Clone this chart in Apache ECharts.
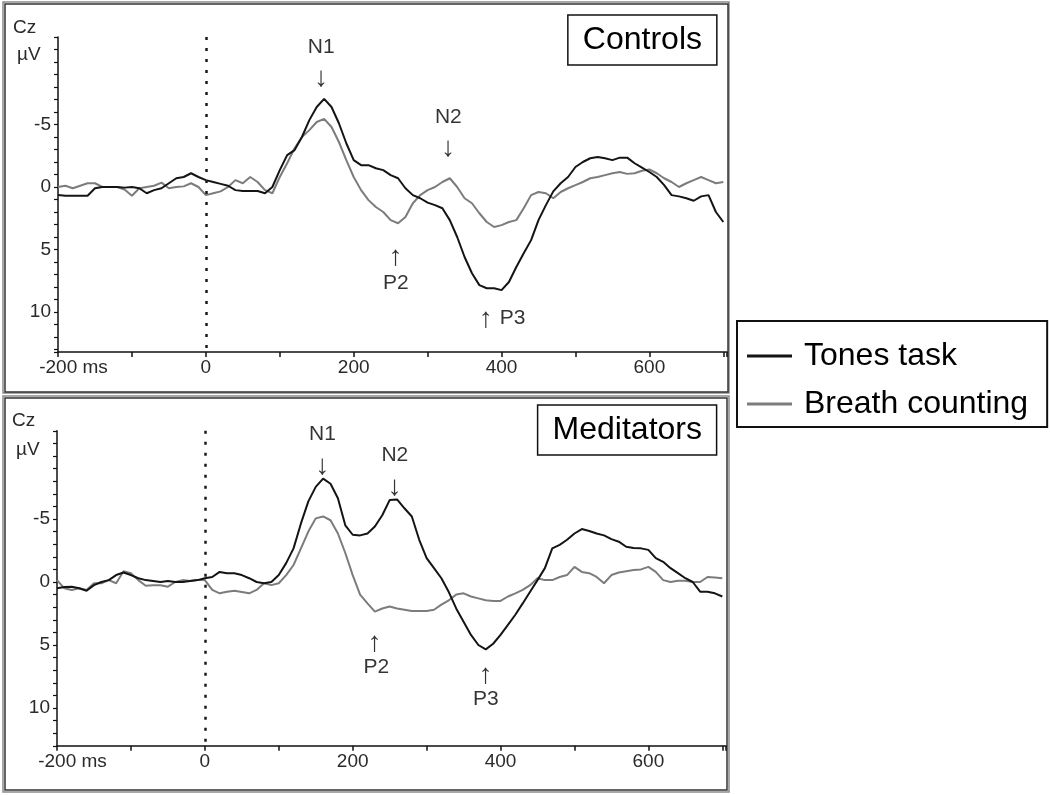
<!DOCTYPE html>
<html>
<head>
<meta charset="utf-8">
<script src="https://cdn.jsdelivr.net/npm/echarts@6/dist/echarts.min.js"></script>
<style>
  html, body { margin: 0; padding: 0; background: #fff; }
  #chart { width: 1050px; height: 795px; }
</style>
</head>
<body>
<div id="chart"></div>
<script>
// time axis, ms (one sample every 10 ms)
const times = Array.from({ length: 91 }, (_, i) => -200 + i * 10)

// Controls, µV at Cz
const ctrlTones = [
  0.64, 0.7, 0.7, 0.7, 0.7, 0.1, 0, 0, 0, 0.05,
  0, 0.1, 0.5, 0.25, 0.1, -0.3, -0.7, -0.8, -1.1, -0.8,
  -0.55, -0.4, -0.25, -0.1, 0.25, 0.32, 0.32, 0.32, 0.5, 0,
  -1.35, -2.55, -2.95, -4.0, -5.35, -6.4, -7.05, -6.4, -5.1, -3.5,
  -2.15, -1.75, -1.75, -1.5, -1.35, -0.95, -0.7, 0.1, 0.65, 0.9,
  1.25, 1.45, 1.7, 2.65, 4.0, 5.6, 6.9, 7.85, 8.1, 8.1,
  8.25, 7.6, 6.4, 5.3, 4.25, 2.65, 1.45, 0.35, -0.3, -0.8,
  -1.6, -2.0, -2.3, -2.4, -2.3, -2.15, -2.35, -2.35, -1.9, -1.55,
  -1.2, -0.8, -0.15, 0.65, 0.75, 0.9, 1.1, 0.75, 0.65, 2.0,
  2.8
]
const ctrlBreath = [
  0, -0.1, 0.1, -0.1, -0.3, -0.3, 0, 0, 0, 0.2,
  0.7, 0.1, 0, -0.1, -0.35, 0.1, 0, -0.05, -0.3, 0,
  0.65, 0.5, 0.35, 0, -0.55, -0.3, -0.8, -0.4, 0.25, 0.5,
  -0.8, -1.9, -3.1, -4.0, -4.55, -5.2, -5.45, -4.8, -3.6, -2.15,
  -0.8, 0.25, 1.05, 1.6, 2.0, 2.65, 2.9, 2.4, 1.3, 0.65,
  0.25, 0, -0.4, -0.7, 0, 0.9, 1.3, 2.1, 2.8, 3.2,
  3.05, 2.8, 2.65, 1.7, 0.65, 0.4, 0.5, 0.9, 0.4, 0.1,
  -0.15, -0.4, -0.7, -0.8, -0.95, -1.1, -1.2, -1.05, -1.1, -1.3,
  -1.4, -1.1, -0.7, -0.4, 0, -0.3, -0.55, -0.8, -0.55, -0.3,
  -0.4
]

// Meditators, µV at Cz
const medTones = [
  0.5, 0.4, 0.37, 0.5, 0.7, 0.25, 0, -0.15, -0.55, -0.75,
  -0.55, -0.3, -0.15, -0.08, 0, -0.08, 0, 0, -0.08, -0.15,
  -0.3, -0.4, -0.8, -0.7, -0.7, -0.55, -0.3, 0, 0.1, 0,
  -0.55, -1.5, -2.67, -4.65, -6.4, -7.55, -8.2, -7.8, -6.65, -4.5,
  -3.75, -3.7, -3.85, -4.4, -5.3, -6.5, -6.55, -5.85, -5.2, -3.35,
  -1.9, -1.1, -0.3, 0.8, 2.1, 3.15, 4.2, 5.0, 5.35, 4.9,
  4.2, 3.4, 2.6, 1.7, 0.77, -0.15, -1.1, -2.67, -2.95, -3.35,
  -3.85, -4.2, -4.05, -3.85, -3.7, -3.4, -3.2, -2.8, -2.7, -2.67,
  -2.55, -1.9, -1.6, -1.1, -0.7, -0.3, 0, 0.77, 0.77, 0.9,
  1.15
]
const medBreath = [
  -0.15, 0.5, 0.63, 0.5, 0.63, 0.1, 0.1, -0.15, 0.1, -0.85,
  -0.7, -0.15, 0.3, 0.25, 0.25, 0.37, 0, -0.15, -0.08, -0.15,
  -0.15, 0.63, 0.9, 0.77, 0.7, 0.8, 0.9, 0.63, 0.1, 0.25,
  0.1, -0.55, -1.35, -2.67, -4.0, -5.05, -5.2, -4.9, -3.85, -2.3,
  -0.55, 1.0, 1.7, 2.35, 2.1, 1.95, 2.1, 2.2, 2.3, 2.3,
  2.3, 2.2, 1.8, 1.45, 1.0, 0.9, 1.15, 1.3, 1.45, 1.5,
  1.5, 1.15, 0.9, 0.63, 0.25, -0.3, -0.15, -0.15, -0.4, -0.55,
  -1.2, -0.8, -0.7, -0.4, 0.1, -0.55, -0.75, -0.85, -0.95, -1.0,
  -1.2, -0.8, -0.15, 0, -0.1, -0.1, 0, 0, -0.4, -0.35,
  -0.3
]

// peak labels: [text, ms, µV] (label centre, in data units)
const ctrlNotes = [
  ['N1', 156, -11.2], ['↓', 156, -8.7],
  ['N2', 328, -5.6], ['↓', 328, -3.1],
  ['↑', 257, 5.6], ['P2', 257, 7.7],
  ['↑', 379, 10.6], ['P3', 415, 10.5]
]
const medNotes = [
  ['N1', 159, -11.7], ['↓', 159, -9.2],
  ['N2', 257, -10.1], ['↓', 257, -7.5],
  ['↑', 230, 4.85], ['P2', 232, 6.8],
  ['↑', 380, 7.4], ['P3', 380, 9.3]
]

const font = 'Liberation Sans, Arial, sans-serif'
const black = '#141414'
const gray = '#7c7c7c'

const chart = echarts.init(document.getElementById('chart'))

function pairs(vals) {
  return times.map((t, i) => [t, vals[i]])
}

function xAxisFor(gridIndex) {
  return {
    type: 'value',
    gridIndex,
    min: -200,
    max: 705,
    interval: 100,
    splitLine: { show: false },
    axisLine: { onZero: false, lineStyle: { color: '#111', width: 1.5 } },
    axisTick: { length: 5, lineStyle: { color: '#111', width: 1.5 } },
    axisLabel: {
      margin: 6,
      color: '#2a2a2a',
      fontSize: 19,
      fontFamily: font,
      formatter: v => {
        if (v === -200) return '{s| }-200 ms'
        return v % 200 === 0 ? String(v) : ''
      },
      rich: { s: { width: 31, fontSize: 19 } }
    }
  }
}

function yAxisFor(gridIndex, max) {
  return {
    type: 'value',
    gridIndex,
    inverse: true,
    min: -12,
    max,
    interval: 1,
    splitLine: { show: false },
    axisLine: { onZero: false, lineStyle: { color: '#111', width: 1.5 } },
    axisTick: { length: 4, lineStyle: { color: '#111', width: 1.2 } },
    axisLabel: {
      margin: 7,
      color: '#2a2a2a',
      fontSize: 19,
      fontFamily: font,
      formatter: v => ([-5, 0, 5, 10].includes(v) ? String(v) : '')
    }
  }
}

function wave(name, vals, color, idx, withZero) {
  const s = {
    name,
    type: 'line',
    xAxisIndex: idx,
    yAxisIndex: idx,
    data: pairs(vals),
    symbol: 'none',
    showSymbol: false,
    silent: true,
    color,
    itemStyle: { color },
    lineStyle: { color, width: 2 }
  }
  if (withZero) {
    s.markLine = {
      silent: true,
      symbol: 'none',
      label: { show: false },
      lineStyle: { type: [3, 8], color: '#1a1a1a', width: 2.5 },
      data: [{ xAxis: 0 }]
    }
  }
  return s
}

function notes(list, idx) {
  return {
    type: 'scatter',
    xAxisIndex: idx,
    yAxisIndex: idx,
    silent: true,
    symbolSize: 0,
    data: list.map(n => ({
      name: n[0],
      value: [n[1], n[2]],
      label: { fontSize: n[0].length > 1 ? 21 : 28 }
    })),
    label: {
      show: true,
      position: 'inside',
      color: '#000',
      fontFamily: font,
      formatter: p => p.name
    },
    z: 5
  }
}

function boxTitle(text, top) {
  return {
    text,
    right: 333,
    top,
    padding: [7, 15, 7, 15],
    borderColor: '#111',
    borderWidth: 1.5,
    textStyle: { fontSize: 32, fontWeight: 'normal', color: '#000', fontFamily: font, lineHeight: 36 }
  }
}

function corner(text, left, top) {
  return {
    type: 'text',
    left,
    top,
    style: { text, fill: '#2a2a2a', font: '19px ' + font }
  }
}

const option = {
  animation: false,
  backgroundColor: '#fff',
  title: [boxTitle('Controls', 15), boxTitle('Meditators', 405)],
  legend: {
    orient: 'vertical',
    left: 737,
    top: 321,
    padding: [17, 19, 5, 10],
    borderColor: '#111',
    borderWidth: 2,
    itemGap: 12,
    itemWidth: 45,
    itemHeight: 3,
    icon: 'rect',
    data: ['Tones task', 'Breath counting'],
    textStyle: { fontSize: 32, color: '#000', fontFamily: font, lineHeight: 36, padding: [0, 0, 0, 7] }
  },
  grid: [
    { left: 58, top: 37, width: 669, height: 315 },
    { left: 57, top: 430.8, width: 669, height: 315 }
  ],
  xAxis: [xAxisFor(0), xAxisFor(1)],
  yAxis: [yAxisFor(0, 13.2), yAxisFor(1, 13)],
  series: [
    wave('Breath counting', ctrlBreath, gray, 0, true),
    wave('Tones task', ctrlTones, black, 0, false),
    wave('Breath counting', medBreath, gray, 1, true),
    wave('Tones task', medTones, black, 1, false),
    notes(ctrlNotes, 0),
    notes(medNotes, 1)
  ],
  graphic: [
    { type: 'rect', shape: { x: 3, y: 2, width: 726, height: 391 }, style: { fill: 'none', stroke: '#8a8a8a', lineWidth: 1.5 } },
    { type: 'rect', shape: { x: 5, y: 4, width: 723, height: 388 }, style: { fill: 'none', stroke: '#333', lineWidth: 1.5 } },
    { type: 'rect', shape: { x: 3, y: 396, width: 726, height: 396 }, style: { fill: 'none', stroke: '#8a8a8a', lineWidth: 1.5 } },
    { type: 'rect', shape: { x: 5, y: 398, width: 722, height: 392 }, style: { fill: 'none', stroke: '#333', lineWidth: 1.5 } },
    corner('Cz', 13, 18),
    corner('µV', 17, 45),
    corner('Cz', 12, 411),
    corner('µV', 16, 440)
  ]
}

chart.setOption(option)
</script>
</body>
</html>
